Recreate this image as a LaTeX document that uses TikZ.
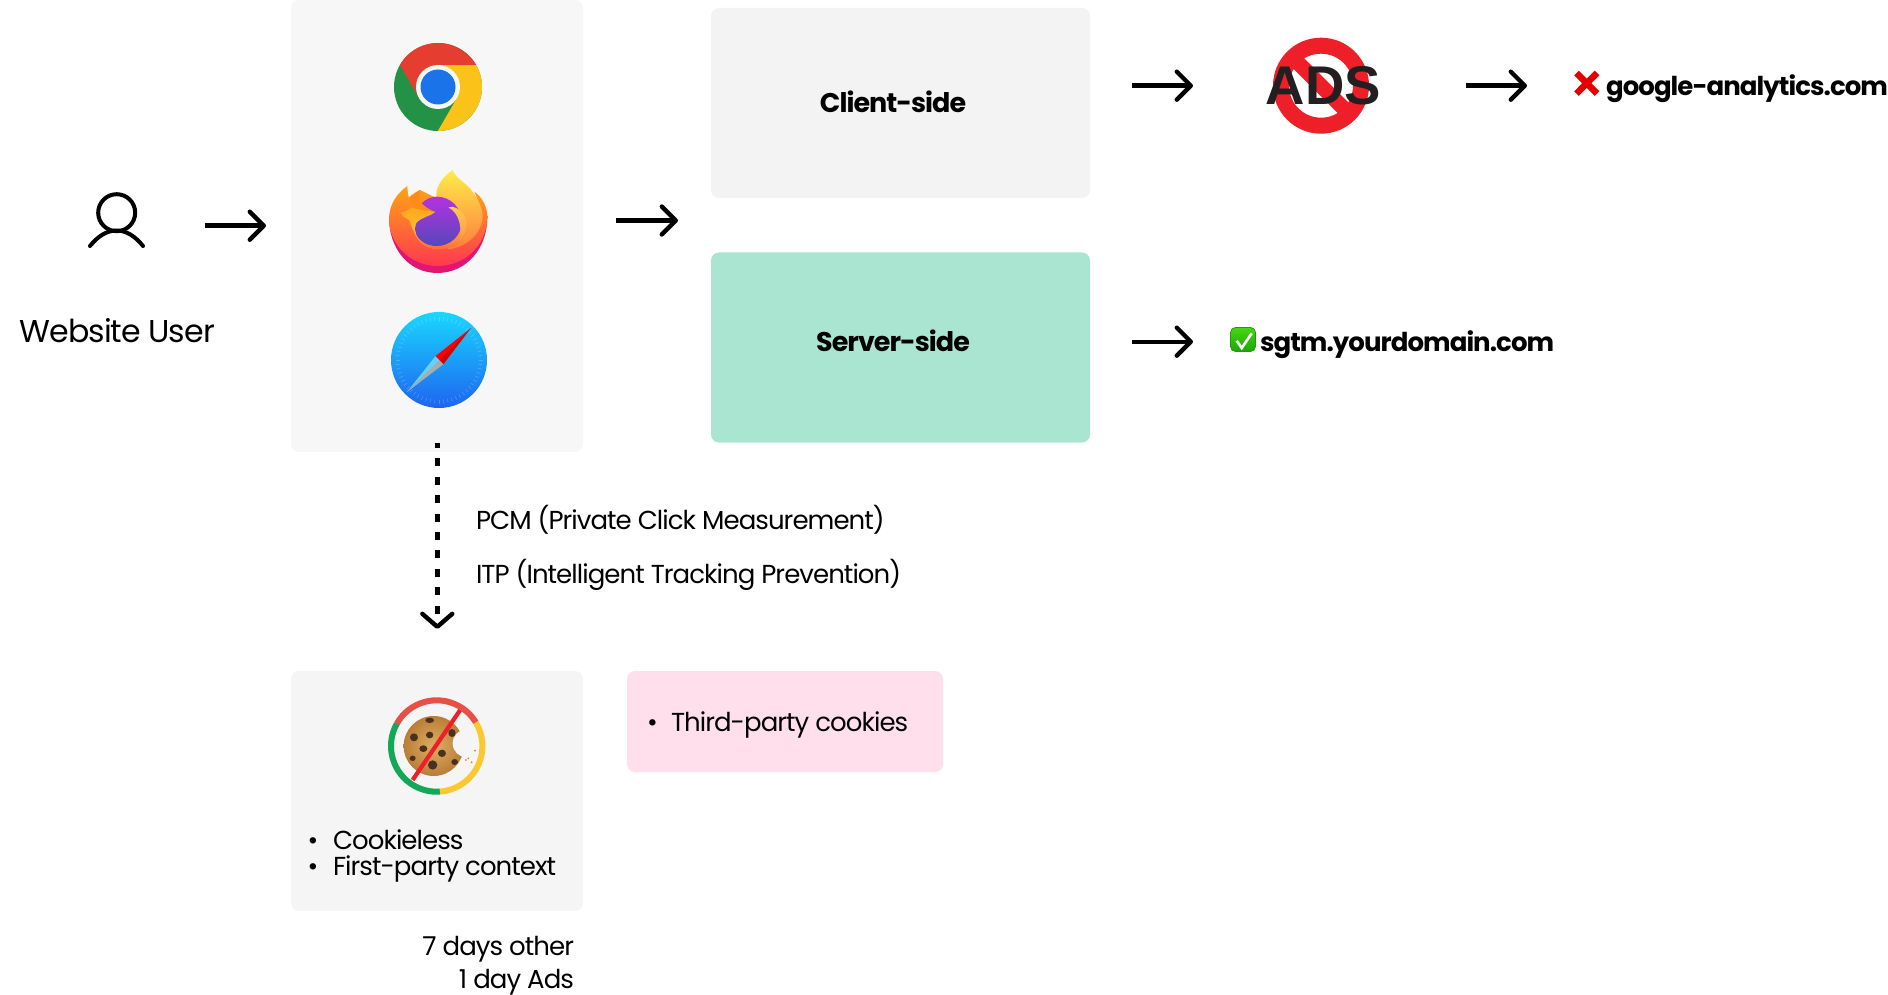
\documentclass[tikz,border=0pt]{standalone}
\usepackage{fontspec}
\setmainfont{Poppins}
\newfontfamily\popw[LetterSpace=-3]{Poppins}
\newfontfamily\popn[LetterSpace=-3.6]{Poppins}
\newfontfamily\popb[LetterSpace=-3.6]{Poppins Bold}
\newfontfamily\adsf{Liberation Sans Bold}
\usetikzlibrary{arrows.meta}
\definecolor{boxgrey}{HTML}{F7F7F7}
\definecolor{clientgrey}{HTML}{F3F3F3}
\definecolor{cookiegrey}{HTML}{F5F5F5}
\definecolor{srvgreen}{HTML}{A9E5D0}
\definecolor{pinkbox}{HTML}{FFDFEC}
\definecolor{stopred}{HTML}{EF1F29}
\definecolor{adsblack}{HTML}{231F20}
\definecolor{chrred}{HTML}{E53D30}
\definecolor{chryel}{HTML}{FBC21A}
\definecolor{chrgrn}{HTML}{239247}
\definecolor{chrblu}{HTML}{1A73E8}
\definecolor{chip}{HTML}{4A3020}
\definecolor{ringgrn}{HTML}{12A858}
\definecolor{ffmag}{HTML}{E31573}
\tikzset{
  panel/.style={rounded corners=8pt,inner sep=0pt,outer sep=0pt,draw=none},
  flow/.style={line width=4.4pt,-{Straight Barb[length=14pt,width=28pt,line width=4.4pt,round]}},
  txt/.style={inner sep=0pt,outer sep=0pt,anchor=base west,text=black},
  txtr/.style={inner sep=0pt,outer sep=0pt,anchor=base east,text=black},
}
\newcommand{\tA}{\popw\fontsize{31.6}{32}\selectfont}
\newcommand{\tB}{\popn\fontsize{26}{26}\selectfont}
\newcommand{\tC}{\popb\fontsize{26}{26}\selectfont}
\newcommand{\tD}{\popb\fontsize{27}{27}\selectfont}
\begin{document}
\begin{tikzpicture}[x=1pt,y=-1pt]
\useasboundingbox (0,0) rectangle (1888,995);
% panels
\node[panel,fill=boxgrey,minimum width=292pt,minimum height=452pt] (browsers) at (437,226) {};
\node[panel,fill=clientgrey,minimum width=379pt,minimum height=190pt] (client) at (900.5,103) {};
\node[panel,fill=srvgreen,minimum width=379pt,minimum height=190pt] (server) at (900.5,347.5) {};
\node[panel,fill=cookiegrey,minimum width=292pt,minimum height=240pt] (cookiebox) at (437,791) {};
\node[panel,fill=pinkbox,minimum width=316pt,minimum height=101pt] (third) at (785,721.5) {};
% user
\draw[line width=4pt] (116.7,212.7) circle[radius=18.5];
\draw[line width=4pt,line cap=round] (90,246) .. controls (98,236) and (107,230.5) .. (116.7,230.5) .. controls (126,230.5) and (135,236) .. (143,246);
\node[txt] (usertxt) at (19.5,342) {\tA Website User};
% arrows
\coordinate (a1s) at (205,225.7); \coordinate (a1e) at (266,225.7);
\coordinate (a2s) at (616,220.5); \coordinate (a2e) at (678,220.5);
\coordinate (a3s) at (1132,85.7); \coordinate (a3e) at (1193,85.7);
\coordinate (a4s) at (1466,85.7); \coordinate (a4e) at (1527,85.7);
\coordinate (a5s) at (1132,341.7); \coordinate (a5e) at (1193,341.7);
\coordinate (d1s) at (437.3,443); \coordinate (d1e) at (437.3,629);
\draw[flow] (a1s) -- (a1e);
\draw[flow] (a2s) -- (a2e);
\draw[flow] (a3s) -- (a3e);
\draw[flow] (a4s) -- (a4e);
\draw[flow] (a5s) -- (a5e);
\draw[line width=5pt,dash pattern=on 8pt off 10.4pt,dash phase=3pt,-{Straight Barb[length=13pt,width=30pt,line width=4.4pt,round]}] (d1s) -- (d1e);
% chrome
\begin{scope}[shift={(438,87)}]
\begin{scope}
\clip (0,0) circle[radius=44];
\fill[chrgrn] (-60,-60) rectangle (60,60);
\fill[chryel] (0,-22) -- (60,-22) -- (60,61) -- (-10,61) -- (19,11) -- cycle;
\fill[chrred] (-19,11) -- (-38,-22) -- (-50,-43) -- (-50,-60) -- (60,-60) -- (60,-22) -- (0,-22) -- cycle;
\end{scope}
\fill[boxgrey] (0,0) circle[radius=22];
\fill[chrblu] (0,0) circle[radius=17.5];
\end{scope}
% firefox
\begin{scope}[shift={(380,160)},x=0.3333pt,y=-0.3333pt]
\fill[ffmag] (27,172) .. controls (27,265) and (85,339) .. (172,339) .. controls (260,339) and (322,265) .. (322,172) -- cycle;
\shade[top color={rgb,255:red,255;green,165;blue,20},middle color={rgb,255:red,255;green,100;blue,50},bottom color={rgb,255:red,255;green,56;blue,80}]
 (82,78) .. controls (50,100) and (27,135) .. (27,178) .. controls (27,250) and (90,318) .. (172,318) .. controls (255,318) and (322,255) .. (322,170) .. controls (322,140) and (305,110) .. (283,95) .. controls (290,110) and (295,125) .. (296,135) -- (170,115) -- (120,90) .. controls (105,97) and (95,105) .. (86,113) .. controls (84,100) and (82,90) .. (82,78) -- cycle;
\shade[top color={rgb,255:red,255;green,236;blue,74},middle color={rgb,255:red,255;green,190;blue,60},bottom color={rgb,255:red,255;green,125;blue,60}]
 (218,30) .. controls (180,55) and (165,90) .. (170,112) -- (170,200) -- (205,268) .. controls (255,262) and (305,225) .. (308,170) .. controls (308,140) and (290,110) .. (270,85) .. controls (250,65) and (225,50) .. (218,30) -- cycle;
\shade[top color={rgb,255:red,255;green,190;blue,60},bottom color={rgb,255:red,255;green,105;blue,60}]
 (98,195) .. controls (102,240) and (135,268) .. (172,268) .. controls (215,268) and (250,250) .. (275,222) .. controls (245,235) and (210,255) .. (172,258) .. controls (135,258) and (108,235) .. (108,195) -- cycle;
\shade[top color={rgb,255:red,180;green,50;blue,225},middle color={rgb,255:red,144;green,89;blue,255},bottom color={rgb,255:red,85;green,72;blue,185}]
 (170,110) .. controls (213,110) and (245,145) .. (245,185) .. controls (245,225) and (213,258) .. (170,258) .. controls (135,258) and (105,235) .. (105,205) -- (125,130) .. controls (138,117) and (153,110) .. (170,110) -- cycle;
\shade[top color={rgb,255:red,255;green,205;blue,80},bottom color={rgb,255:red,255;green,150;blue,70}]
 (205,142) .. controls (220,135) and (240,148) .. (252,165) .. controls (265,185) and (262,215) .. (240,240) .. controls (245,205) and (240,160) .. (205,142) -- cycle;
% fox: upper part in the body's orange, lower band lighter
\fill[fill={rgb,255:red,255;green,140;blue,24}]
 (88,113) .. controls (98,105) and (108,97) .. (120,90) -- (118,120) .. controls (130,140) and (150,150) .. (166,156) -- (120,150) -- (93,142) -- cycle;
\shade[top color={rgb,255:red,255;green,165;blue,30},bottom color={rgb,255:red,255;green,195;blue,45}]
 (62,158) .. controls (75,155) and (88,150) .. (93,142) .. controls (115,150) and (145,152) .. (166,156) .. controls (150,170) and (125,170) .. (108,190) .. controls (102,197) and (103,210) .. (108,222) .. controls (92,205) and (92,182) .. (85,178) .. controls (75,175) and (68,168) .. (62,158) -- cycle;
\end{scope}
% safari
\begin{scope}[shift={(439,360)}]
\shade[top color={rgb,255:red,25;green,215;blue,255},bottom color={rgb,255:red,30;green,100;blue,240}] (0,0) circle[radius=48];
\foreach \a in {0,6,...,354}{\draw[white,opacity=.2,line width=.7pt] (\a:39.5) -- (\a:43.5);}
\fill[red] (32,-32) -- (-3.7,-3.7) -- (.3,.3) -- cycle;
\fill[red!85!black] (32,-32) -- (4.3,4.3) -- (.3,.3) -- cycle;
\fill[blue!30!cyan!60!white] (-32,32) -- (-3.7,-3.7) -- (.3,.3) -- cycle;
\fill[black!33] (-32,32) -- (4.3,4.3) -- (.3,.3) -- cycle;
\end{scope}
% client/server text
\node[inner sep=0pt] (clienttxt) at (893,102) {\tD Client-side};
\node[inner sep=0pt] (servertxt) at (893,341) {\tD Server-side};
% ads
\draw[stopred,line width=16pt] (1321,85.7) circle[radius=40];
\draw[stopred,line width=15pt] (1293,57.7) -- (1349,113.7);
\node[inner sep=0pt,outer sep=0pt,anchor=base,text=adsblack] (adstxt) at (1323.5,105) {\adsf\fontsize{54.5}{54.5}\selectfont ADS};
% x and check
\draw[red!90!black,line width=6.5pt] (1576.5,73) -- (1597,93.6) (1576.5,93.6) -- (1597,73);
\node[txt] (gatxt) at (1606,95.5) {\tC google-analytics.com};
\draw[rounded corners=5pt,draw={rgb,255:red,40;green,150;blue,20},line width=.8pt,top color={rgb,255:red,70;green,215;blue,20},bottom color={rgb,255:red,25;green,170;blue,0}] (1230.5,327.5) rectangle (1255.5,351.5);
\draw[white,line width=2.6pt] (1236.7,340.7) -- (1241.7,348) -- (1251.7,333.3);
\node[txt] (sgtxt) at (1260,351) {\tC sgtm.yourdomain.com};
% labels
\node[txt] (pcm) at (476,529.5) {\tB PCM (Private Click Measurement)};
\node[txt] (itp) at (476,583.5) {\tB ITP (Intelligent Tracking Prevention)};
% third
\node[txt] (bul3) at (647,731.5) {\tB •};
\node[txt] (thirdtxt) at (671,731.5) {\tB Third-party cookies};
% cookie icon
\begin{scope}[shift={(280,660)},x=0.3333pt,y=-0.3333pt]
\shade[inner color={rgb,255:red,222;green,175;blue,100},outer color={rgb,255:red,185;green,125;blue,55}] (461,258) circle[radius=90];
\fill[cookiegrey] (560,250) circle[radius=42];
\foreach \cx/\cy/\crx/\cry in {449/181/13/8,402/232/12/12,449/225/11/10,516/219/11/12,430/266/12/10,486/280/12/11,398/295/9/8,458/315/14/14,524/306/10/9}{\fill[chip] (\cx,\cy) ellipse[x radius=\crx,y radius=\cry];}
\foreach \cx/\cy in {585/272,565/295,575/307,558/300}{\fill[orange!50!brown] (\cx,\cy) circle[radius=3];}
\draw[stopred,line width=4.2pt] (398,360) -- (542,148);
\end{scope}
\draw[line width=6pt,chrred!90!white] (436.7,746) ++(-151:45.7) arc[start angle=-151,end angle=-31,radius=45.7];
\draw[line width=6pt,ringgrn] (436.7,746) ++(209:45.7) arc[start angle=209,end angle=86,radius=45.7];
\draw[line width=6pt,chryel!90!white] (436.7,746) ++(86:45.7) arc[start angle=86,end angle=-31,radius=45.7];
\node[txt] (bul1) at (307.5,849.5) {\tB •};
\node[txt] (bul2) at (307.5,875.5) {\tB •};
\node[txt] (cookie1) at (333,849.5) {\tB Cookieless};
\node[txt] (cookie2) at (333,875.5) {\tB First-party context};
\node[txtr] (days1) at (574,955) {\tB 7 days other};
\node[txtr] (days2) at (574,988) {\tB 1 day Ads};
\end{tikzpicture}
\end{document}
